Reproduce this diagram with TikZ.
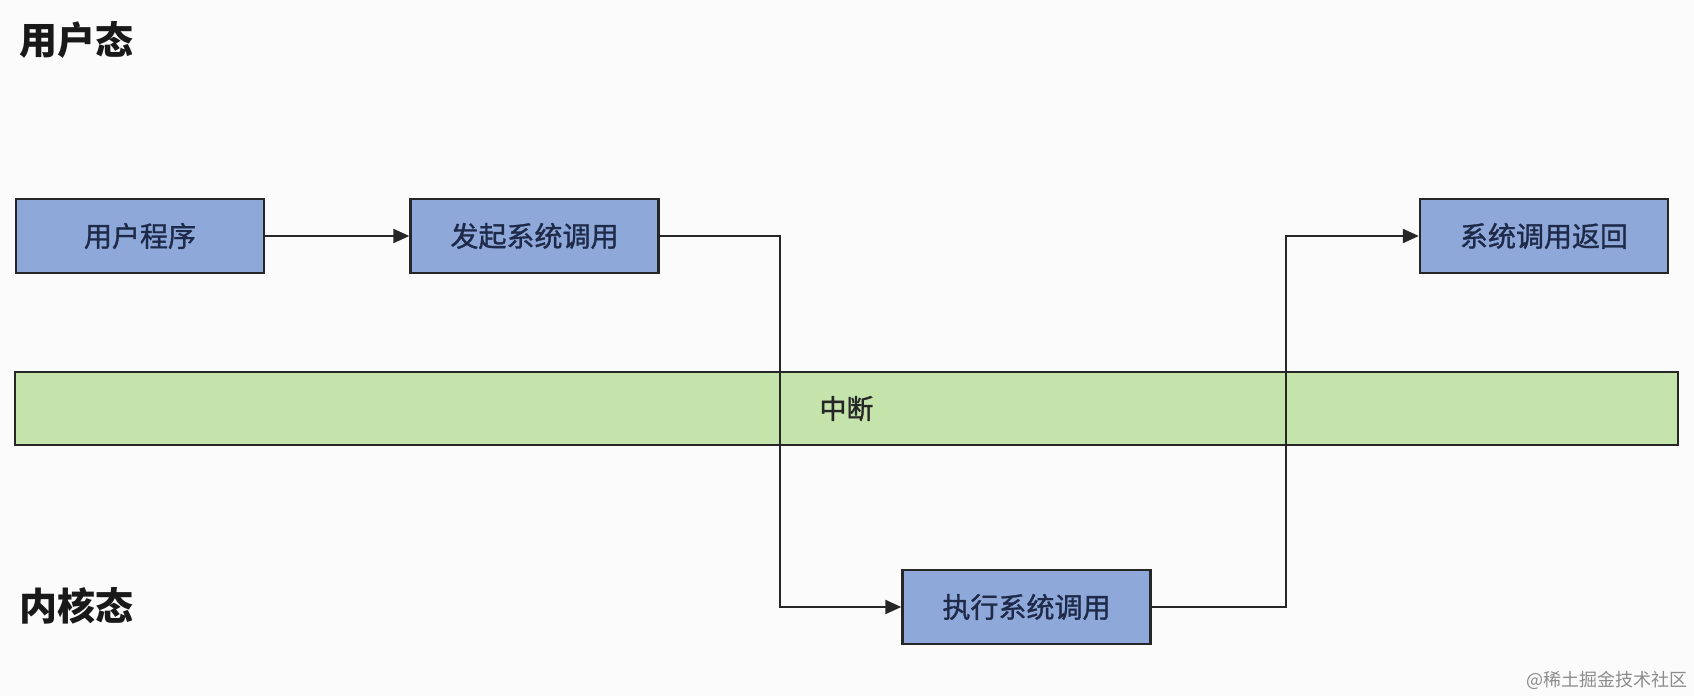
\documentclass[tikz,border=0pt]{standalone}
\usepackage{fontspec}
\setmainfont{Noto Sans CJK SC}
\newfontfamily\boxfont{Noto Sans CJK SC}[FakeBold=1.2]
\usetikzlibrary{arrows.meta}
\definecolor{boxblue}{HTML}{8EA8DA}
\definecolor{bargreen}{HTML}{C4E4AC}
\definecolor{boxtext}{HTML}{1E2A48}
\definecolor{bgc}{HTML}{FBFBFB}
\tikzset{
  procbox/.style={draw=black!85, line width=1.2pt, fill=boxblue, minimum width=124pt, minimum height=37pt, inner sep=0pt, font=\boxfont\fontsize{14}{16}\selectfont, text=boxtext},
  barbox/.style={draw=black!85, line width=1.2pt, fill=bargreen, minimum width=831.5pt, minimum height=36.5pt, inner sep=0pt, font=\boxfont\fontsize{13.5}{16}\selectfont, text=black!85},
  statelabel/.style={font=\fontsize{19}{22}\selectfont\bfseries, text=black!90},
  conn/.style={draw=black!85, line width=1.1pt, -{Triangle[length=8pt,width=7pt]}},
}
\begin{document}
\begin{tikzpicture}[x=0.5pt,y=-0.5pt]
\fill[bgc] (0,0) rectangle (1694,696);
\useasboundingbox (0,0) rectangle (1694,696);
\node[statelabel] (user) at (76,40) {用户态};
\node[statelabel] (kernel) at (76,606) {内核态};
\node[barbox] (irq) at (846.5,408.5) {中断};
\node[procbox] (p1) at (140,236) {用户程序};
\node[procbox] (p2) at (534.5,236) {发起系统调用};
\node[procbox] (p3) at (1544,236) {系统调用返回};
\node[procbox] (p4) at (1026.5,607) {执行系统调用};
\coordinate (c1) at (780,236);
\coordinate (c2) at (780,607);
\coordinate (c3) at (1286,607);
\coordinate (c4) at (1286,236);
\draw[conn] (p1.east) -- (p2.west);
\draw[conn] (p2.east) -- (c1) -- (c2) -- (p4.west);
\draw[conn] (p4.east) -- (c3) -- (c4) -- (p3.west);
\node[font=\fontsize{9}{10}\selectfont, text=black!45] (wm) at (1607,680) {@稀土掘金技术社区};
\end{tikzpicture}
\end{document}
